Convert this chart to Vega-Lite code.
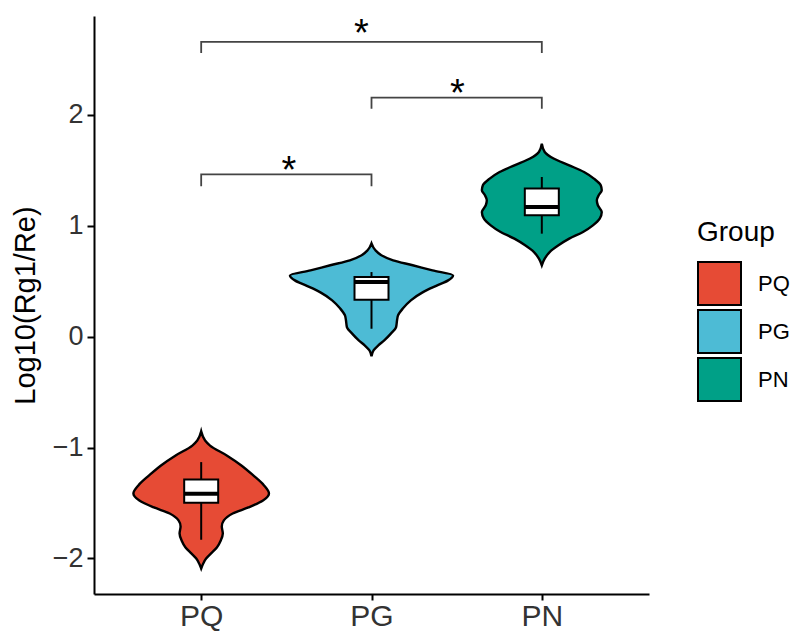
{
  "$schema": "https://vega.github.io/schema/vega-lite/v6.json",
  "width": 555,
  "height": 578,
  "autosize": {"type": "none"},
  "padding": {"left": 94, "top": 16, "right": 143, "bottom": 38},
  "background": "white",
  "config": {
    "view": {"stroke": null},
    "font": "Liberation Sans",
    "axis": {
      "grid": false,
      "domainColor": "#000",
      "domainWidth": 2,
      "tickColor": "#000",
      "tickWidth": 2,
      "tickSize": 7,
      "labelFont": "Liberation Sans",
      "labelFontSize": 27,
      "labelColor": "#333",
      "labelPadding": 4,
      "titleFont": "Liberation Sans",
      "titleFontSize": 29,
      "titleFontWeight": "normal",
      "titleColor": "#000"
    },
    "legend": {
      "orient": "none",
      "legendX": 603,
      "legendY": 203,
      "titleFont": "Liberation Sans",
      "titleFontSize": 28,
      "titleFontWeight": "normal",
      "titleColor": "#000",
      "titlePadding": 14,
      "labelFont": "Liberation Sans",
      "labelFontSize": 22,
      "labelColor": "#000",
      "labelOffset": 16,
      "symbolType": "square",
      "symbolSize": 1849,
      "symbolStrokeColor": "#000",
      "symbolStrokeWidth": 2,
      "symbolOpacity": 1,
      "rowPadding": -10
    }
  },
  "datasets": {
    "violin": [
      {"Group": "PQ", "value": -0.854, "lo": 1.0, "hi": 1.0},
      {"Group": "PQ", "value": -0.936, "lo": 0.977, "hi": 1.023},
      {"Group": "PQ", "value": -0.982, "lo": 0.948, "hi": 1.052},
      {"Group": "PQ", "value": -1.071, "lo": 0.85, "hi": 1.15},
      {"Group": "PQ", "value": -1.161, "lo": 0.764, "hi": 1.236},
      {"Group": "PQ", "value": -1.251, "lo": 0.694, "hi": 1.306},
      {"Group": "PQ", "value": -1.341, "lo": 0.631, "hi": 1.369},
      {"Group": "PQ", "value": -1.413, "lo": 0.602, "hi": 1.398},
      {"Group": "PQ", "value": -1.477, "lo": 0.637, "hi": 1.363},
      {"Group": "PQ", "value": -1.54, "lo": 0.723, "hi": 1.277},
      {"Group": "PQ", "value": -1.594, "lo": 0.815, "hi": 1.185},
      {"Group": "PQ", "value": -1.657, "lo": 0.867, "hi": 1.133},
      {"Group": "PQ", "value": -1.711, "lo": 0.879, "hi": 1.121},
      {"Group": "PQ", "value": -1.774, "lo": 0.873, "hi": 1.127},
      {"Group": "PQ", "value": -1.837, "lo": 0.885, "hi": 1.115},
      {"Group": "PQ", "value": -1.9, "lo": 0.908, "hi": 1.092},
      {"Group": "PQ", "value": -1.954, "lo": 0.942, "hi": 1.058},
      {"Group": "PQ", "value": -2.0, "lo": 0.971, "hi": 1.029},
      {"Group": "PQ", "value": -2.045, "lo": 0.988, "hi": 1.012},
      {"Group": "PQ", "value": -2.09, "lo": 1.0, "hi": 1.0},
      {"Group": "PG", "value": 0.841, "lo": 2.0, "hi": 2.0},
      {"Group": "PG", "value": 0.778, "lo": 1.977, "hi": 2.023},
      {"Group": "PG", "value": 0.733, "lo": 1.942, "hi": 2.058},
      {"Group": "PG", "value": 0.687, "lo": 1.873, "hi": 2.127},
      {"Group": "PG", "value": 0.643, "lo": 1.758, "hi": 2.242},
      {"Group": "PG", "value": 0.597, "lo": 1.642, "hi": 2.358},
      {"Group": "PG", "value": 0.552, "lo": 1.521, "hi": 2.479},
      {"Group": "PG", "value": 0.507, "lo": 1.55, "hi": 2.45},
      {"Group": "PG", "value": 0.462, "lo": 1.614, "hi": 2.386},
      {"Group": "PG", "value": 0.399, "lo": 1.7, "hi": 2.3},
      {"Group": "PG", "value": 0.327, "lo": 1.769, "hi": 2.231},
      {"Group": "PG", "value": 0.255, "lo": 1.815, "hi": 2.185},
      {"Group": "PG", "value": 0.192, "lo": 1.844, "hi": 2.156},
      {"Group": "PG", "value": 0.147, "lo": 1.85, "hi": 2.15},
      {"Group": "PG", "value": 0.083, "lo": 1.856, "hi": 2.144},
      {"Group": "PG", "value": 0.029, "lo": 1.885, "hi": 2.115},
      {"Group": "PG", "value": -0.034, "lo": 1.925, "hi": 2.075},
      {"Group": "PG", "value": -0.079, "lo": 1.96, "hi": 2.04},
      {"Group": "PG", "value": -0.124, "lo": 1.988, "hi": 2.012},
      {"Group": "PG", "value": -0.178, "lo": 2.0, "hi": 2.0},
      {"Group": "PN", "value": 1.74, "lo": 3.0, "hi": 3.0},
      {"Group": "PN", "value": 1.664, "lo": 2.983, "hi": 3.017},
      {"Group": "PN", "value": 1.605, "lo": 2.931, "hi": 3.069},
      {"Group": "PN", "value": 1.544, "lo": 2.839, "hi": 3.161},
      {"Group": "PN", "value": 1.484, "lo": 2.752, "hi": 3.248},
      {"Group": "PN", "value": 1.424, "lo": 2.694, "hi": 3.306},
      {"Group": "PN", "value": 1.364, "lo": 2.654, "hi": 3.346},
      {"Group": "PN", "value": 1.319, "lo": 2.648, "hi": 3.352},
      {"Group": "PN", "value": 1.274, "lo": 2.666, "hi": 3.334},
      {"Group": "PN", "value": 1.229, "lo": 2.677, "hi": 3.323},
      {"Group": "PN", "value": 1.184, "lo": 2.671, "hi": 3.329},
      {"Group": "PN", "value": 1.123, "lo": 2.648, "hi": 3.352},
      {"Group": "PN", "value": 1.064, "lo": 2.66, "hi": 3.34},
      {"Group": "PN", "value": 1.003, "lo": 2.7, "hi": 3.3},
      {"Group": "PN", "value": 0.943, "lo": 2.758, "hi": 3.242},
      {"Group": "PN", "value": 0.883, "lo": 2.839, "hi": 3.161},
      {"Group": "PN", "value": 0.823, "lo": 2.902, "hi": 3.098},
      {"Group": "PN", "value": 0.762, "lo": 2.954, "hi": 3.046},
      {"Group": "PN", "value": 0.703, "lo": 2.983, "hi": 3.017},
      {"Group": "PN", "value": 0.643, "lo": 3.0, "hi": 3.0}
    ],
    "box": [
      {"Group": "PQ", "pos": 1, "wlo": -1.831, "q1": -1.497, "med": -1.416, "q3": -1.287, "whi": -1.131},
      {"Group": "PG", "pos": 2, "wlo": 0.071, "q1": 0.333, "med": 0.492, "q3": 0.537, "whi": 0.582},
      {"Group": "PN", "pos": 3, "wlo": 0.928, "q1": 1.093, "med": 1.168, "q3": 1.334, "whi": 1.439}
    ],
    "bracket": [
      {"b": "PQ-PG", "ord": 1, "x": 1, "y": 1.355},
      {"b": "PQ-PG", "ord": 2, "x": 1, "y": 1.463},
      {"b": "PQ-PG", "ord": 3, "x": 2, "y": 1.463},
      {"b": "PQ-PG", "ord": 4, "x": 2, "y": 1.355},
      {"b": "PG-PN", "ord": 1, "x": 2, "y": 2.055},
      {"b": "PG-PN", "ord": 2, "x": 2, "y": 2.154},
      {"b": "PG-PN", "ord": 3, "x": 3, "y": 2.154},
      {"b": "PG-PN", "ord": 4, "x": 3, "y": 2.055},
      {"b": "PQ-PN", "ord": 1, "x": 1, "y": 2.557},
      {"b": "PQ-PN", "ord": 2, "x": 1, "y": 2.656},
      {"b": "PQ-PN", "ord": 3, "x": 3, "y": 2.656},
      {"b": "PQ-PN", "ord": 4, "x": 3, "y": 2.557}
    ],
    "stars": [
      {"b": "PQ-PG", "x": 1.515, "y": 1.574, "label": "*"},
      {"b": "PG-PN", "x": 2.505, "y": 2.265, "label": "*"},
      {"b": "PQ-PN", "x": 1.94, "y": 2.807, "label": "*"}
    ]
  },
  "layer": [
    {
      "data": {"name": "violin"},
      "mark": {"type": "area", "orient": "horizontal", "interpolate": "monotone", "stroke": "#000", "strokeWidth": 2.4, "opacity": 1},
      "encoding": {
        "y": {"field": "value", "type": "quantitative", "scale": {"domain": [-2.32, 2.89], "nice": false, "zero": false}, "title": "Log10(Rg1/Re)", "axis": {"values": [-2, -1, 0, 1, 2], "format": "d", "titlePadding": 12}},
        "x": {"field": "lo", "type": "quantitative", "scale": {"domain": [0.4, 3.6], "nice": false, "zero": false}, "title": null, "axis": {"values": [1, 2, 3], "labelExpr": "datum.value == 1 ? 'PQ' : datum.value == 2 ? 'PG' : 'PN'", "labelFontSize": 30, "labelPadding": 1, "tickSize": 6}},
        "x2": {"field": "hi"},
        "color": {"field": "Group", "type": "nominal", "sort": ["PQ", "PG", "PN"], "scale": {"domain": ["PQ", "PG", "PN"], "range": ["#E64B35", "#4DBBD5", "#00A087"]}, "legend": {"title": "Group"}}
      }
    },
    {
      "data": {"name": "box"},
      "mark": {"type": "rule", "color": "#000", "strokeWidth": 2},
      "encoding": {
        "x": {"field": "pos", "type": "quantitative", "title": null},
        "y": {"field": "wlo", "type": "quantitative", "title": "Log10(Rg1/Re)"},
        "y2": {"field": "whi"}
      }
    },
    {
      "data": {"name": "box"},
      "mark": {"type": "bar", "size": 34, "fill": "#fff", "stroke": "#000", "strokeWidth": 2, "orient": "vertical"},
      "encoding": {
        "x": {"field": "pos", "type": "quantitative", "title": null},
        "y": {"field": "q1", "type": "quantitative", "title": "Log10(Rg1/Re)"},
        "y2": {"field": "q3"}
      }
    },
    {
      "data": {"name": "box"},
      "mark": {"type": "tick", "orient": "horizontal", "size": 34, "thickness": 4, "color": "#000", "opacity": 1},
      "encoding": {
        "x": {"field": "pos", "type": "quantitative", "title": null},
        "y": {"field": "med", "type": "quantitative", "title": "Log10(Rg1/Re)"}
      }
    },
    {
      "data": {"name": "bracket"},
      "mark": {"type": "line", "color": "#444", "strokeWidth": 1.8, "interpolate": "linear"},
      "encoding": {
        "x": {"field": "x", "type": "quantitative", "title": null},
        "y": {"field": "y", "type": "quantitative", "title": "Log10(Rg1/Re)"},
        "detail": {"field": "b", "type": "nominal"},
        "order": {"field": "ord", "type": "quantitative"}
      }
    },
    {
      "data": {"name": "stars"},
      "mark": {"type": "text", "fontSize": 38, "color": "#000", "baseline": "alphabetic", "align": "center", "dy": 21, "font": "Liberation Sans"},
      "encoding": {
        "x": {"field": "x", "type": "quantitative", "title": null},
        "y": {"field": "y", "type": "quantitative", "title": "Log10(Rg1/Re)"},
        "text": {"field": "label"}
      }
    }
  ]
}
